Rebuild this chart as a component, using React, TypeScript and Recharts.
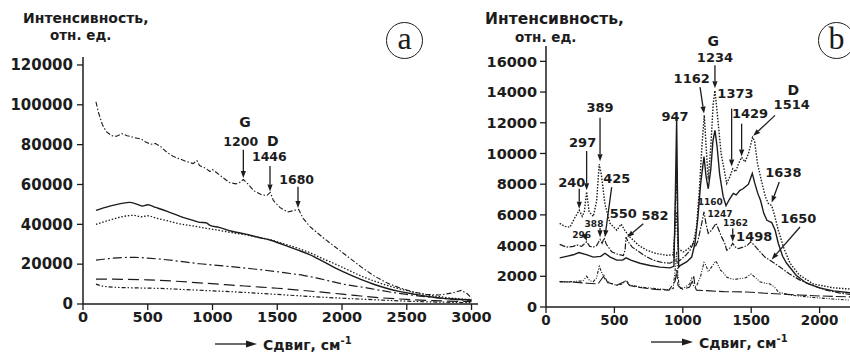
import React from 'react';
import { LineChart, Line, XAxis, YAxis, ReferenceLine, ReferenceDot } from 'recharts';

// ---- panel (a): spectra, [shift, intensity] ----
const aDashDot = [[100,101500],[120,96000],[150,90000],[180,86500],[220,84500],[260,84200],[300,85500],[340,84500],[400,83500],[450,82800],[480,81500],[520,80200],[560,80600],[600,79000],[650,76000],[700,74000],[760,72500],[800,71500],[850,70500],[880,72000],[900,69500],[950,68000],[980,66500],[1000,67500],[1030,66000],[1080,63500],[1130,61000],[1180,60300],[1210,61000],[1238,62500],[1270,60500],[1320,56800],[1380,54800],[1420,54500],[1446,56000],[1470,52000],[1520,48500],[1580,46200],[1620,46800],[1665,47500],[1700,43000],[1750,39000],[1850,33500],[1950,28500],[2050,23500],[2150,18500],[2250,14000],[2350,10500],[2450,8000],[2550,6000],[2650,4800],[2750,4500],[2850,5500],[2920,6800],[2970,5000],[3000,3000]];
const aSolid = [[100,47000],[200,49000],[300,50500],[360,51000],[420,50000],[460,49200],[500,49800],[560,48500],[650,46500],[750,44000],[850,42000],[900,41000],[950,40800],[980,39500],[1050,38500],[1150,36500],[1250,35200],[1350,33500],[1450,32000],[1550,29700],[1650,27300],[1750,24800],[1850,21500],[1950,18000],[2050,15000],[2150,12200],[2250,9800],[2350,7800],[2450,6200],[2550,5000],[2650,3900],[2750,3100],[2850,2500],[3000,2000]];
const aDotted = [[100,40000],[200,42000],[300,43800],[390,44500],[450,43800],[500,44300],[560,43200],[650,41800],[750,40200],[850,39200],[950,38000],[1050,37000],[1150,35800],[1250,34800],[1350,33500],[1450,32200],[1550,30200],[1650,28200],[1750,25800],[1850,22800],[1950,20000],[2050,17000],[2150,14000],[2250,11500],[2350,9300],[2450,7500],[2550,6000],[2650,4700],[2750,3700],[2850,2900],[3000,2200]];
const aLongDashDot = [[100,22000],[200,22800],[300,23300],[400,23400],[500,23000],[600,22500],[700,21800],[800,21000],[900,20200],[1000,19600],[1100,19000],[1200,18400],[1300,17700],[1400,17000],[1500,16200],[1600,15300],[1700,14400],[1800,13100],[1900,11600],[2000,10100],[2100,9000],[2200,8000],[2300,6800],[2400,5700],[2500,4800],[2600,4000],[2700,3300],[2800,2700],[3000,1800]];
const aDash = [[100,12500],[300,12400],[500,12100],[700,11500],[900,10600],[1100,9700],[1300,8800],[1500,7900],[1700,6800],[1900,5600],[2100,4300],[2300,3100],[2500,2300],[2700,1700],[2900,1300],[3000,1200]];
const aDashDotDot = [[100,10000],[150,9000],[250,8400],[400,8100],[600,7800],[800,7200],[1000,6600],[1200,6000],[1400,5200],[1600,4400],[1800,3600],[2000,2900],[2200,2300],[2400,1700],[2600,1200],[2800,900],[3000,700]];

// ---- panel (b) ----
const bDotted = [[100,5450],[140,5250],[175,5200],[210,5800],[243,6300],[265,5900],[280,6200],[297,7500],[315,6200],[346,5900],[370,6900],[389,9300],[405,8600],[431,6700],[468,5450],[517,5000],[550,5400],[575,5000],[614,4550],[680,4000],[736,3700],[800,3500],[882,3370],[930,3400],[947,5500],[955,6200],[965,3800],[1004,3580],[1040,3800],[1077,4150],[1100,5200],[1120,7500],[1140,10500],[1157,12500],[1170,10500],[1186,8300],[1205,10500],[1222,13200],[1235,14100],[1250,12800],[1280,10000],[1321,8050],[1345,8500],[1365,9000],[1385,8800],[1406,9300],[1430,9750],[1455,9450],[1480,10000],[1510,11050],[1525,10800],[1545,9400],[1575,8200],[1605,7150],[1625,6750],[1650,6600],[1670,6000],[1698,5000],[1740,3800],[1784,2850],[1850,2100],[1954,1500],[2100,1250],[2250,1150]];
const bSolid = [[100,3200],[150,3300],[200,3400],[240,3550],[300,3400],[346,3250],[400,3300],[431,3500],[470,3250],[517,3050],[560,3050],[585,3200],[620,3050],[687,2850],[760,2700],[833,2600],[906,2550],[935,2650],[945,7000],[955,12300],[963,6000],[970,2600],[980,2700],[1030,2950],[1065,3250],[1090,4200],[1110,5800],[1130,8000],[1155,9800],[1170,8500],[1186,7700],[1205,9000],[1220,10800],[1235,11500],[1250,10500],[1270,8600],[1295,7200],[1316,6600],[1340,7000],[1369,7400],[1390,7300],[1418,7600],[1440,7700],[1460,7850],[1480,8000],[1508,8700],[1525,8100],[1548,7400],[1568,6950],[1592,6100],[1615,5650],[1650,5500],[1675,5000],[1698,4150],[1730,3300],[1759,2850],[1830,2050],[1905,1550],[2000,1250],[2100,1050],[2250,900]];
const bDashDot = [[100,4080],[151,3900],[200,3950],[224,4050],[260,3950],[297,4250],[320,3950],[346,3900],[370,4000],[395,4400],[410,4150],[425,4500],[440,4100],[480,3600],[520,3450],[565,3350],[578,3700],[585,4550],[600,4250],[630,3900],[663,3700],[720,3350],[784,3050],[850,2900],[906,2850],[935,3000],[945,6500],[955,9000],[962,5500],[970,3000],[980,3050],[1020,3350],[1053,3700],[1077,4150],[1090,3900],[1110,4300],[1135,5300],[1155,6200],[1170,5400],[1186,4800],[1210,5000],[1243,5450],[1260,5100],[1284,4550],[1305,4200],[1321,3700],[1345,3850],[1365,4150],[1385,3900],[1406,3800],[1440,3900],[1470,4000],[1496,4250],[1520,4050],[1564,3600],[1600,3250],[1637,3050],[1670,2850],[1711,2600],[1780,2150],[1857,1750],[1950,1400],[2050,1100],[2150,900],[2250,800]];
const bDashDotDot = [[100,1650],[150,1620],[224,1680],[270,1700],[297,2000],[320,1700],[346,1650],[370,1900],[389,2650],[405,2300],[431,1800],[470,1550],[517,1420],[560,1500],[585,1750],[610,1450],[687,1300],[800,1200],[882,1130],[930,1200],[945,2500],[955,3600],[963,2200],[975,1200],[1010,1250],[1050,1500],[1065,1850],[1080,1350],[1100,1350],[1130,2000],[1155,2900],[1170,2700],[1186,2300],[1210,2600],[1240,3000],[1255,2800],[1275,2400],[1296,2250],[1320,1950],[1345,1850],[1380,1800],[1418,1850],[1460,1900],[1500,2150],[1520,2000],[1564,1650],[1600,1550],[1637,1500],[1670,1300],[1698,980],[1780,780],[1954,620],[2100,520],[2250,430]];
const bDash = [[100,1650],[200,1620],[300,1550],[380,1500],[425,2050],[450,1600],[517,1420],[585,1700],[610,1400],[700,1250],[800,1150],[900,1100],[945,1700],[955,2400],[965,1400],[1000,1150],[1050,1300],[1070,1700],[1080,2000],[1090,1300],[1100,1100],[1200,1050],[1300,1000],[1467,980],[1600,900],[1711,850],[1850,780],[2000,720],[2250,650]];

const aTicksX = [0, 500, 1000, 1500, 2000, 2500, 3000];
const aTicksY = [0, 20000, 40000, 60000, 80000, 100000, 120000];
const bTicksX = [0, 500, 1000, 1500, 2000];
const bTicksY = [0, 2000, 4000, 6000, 8000, 10000, 12000, 14000, 16000];

// peak labels [text, x, y, fontSize]
const aLabels: [string, number, number, number][] = [
  ['G', 1251, 91600, 14], ['1200', 1218, 81600, 12.5], ['D', 1465, 81600, 14],
  ['1446', 1439, 74000, 12.5], ['1680', 1650, 62300, 12.5],
];
// arrows [x1, y1, x2 (tip), y2 (tip)]
const aArrows = [
  [1238, 77400, 1238, 63200], [1444, 69300, 1444, 56500], [1660, 58800, 1660, 48200],
];
const bLabels: [string, number, number, number][] = [
  ['G', 1223, 17300, 14], ['1234', 1235, 16280, 13], ['1162', 1065, 14910, 13],
  ['1373', 1385, 13930, 13], ['1429', 1491, 12590, 13], ['D', 1808, 14150, 14],
  ['1514', 1796, 13200, 13], ['1638', 1735, 8790, 13], ['1650', 1844, 5760, 13],
  ['1498', 1522, 4600, 13], ['1362', 1385, 5480, 9], ['1247', 1272, 6080, 9],
  ['1160', 1200, 6850, 9], ['947', 943, 12420, 13], ['389', 395, 13020, 13],
  ['297', 268, 10740, 13], ['240', 188, 8140, 13], ['425', 517, 8360, 13],
  ['550', 565, 6120, 13], ['582', 797, 5970, 13], ['388', 351, 5380, 9], ['296', 261, 4670, 9],
];
const bArrows = [
  [1235, 15750, 1235, 14250], [1126, 14320, 1155, 12600], [1357, 12920, 1357, 9150],
  [1430, 11940, 1430, 9800], [1674, 12480, 1515, 11150], [1705, 8140, 1650, 6800],
  [1857, 5210, 1650, 3100], [1365, 5120, 1365, 4250], [395, 12330, 395, 9500],
  [297, 10160, 297, 7600], [243, 7710, 243, 6400], [480, 7810, 431, 4550],
  [711, 5430, 594, 4550], [395, 5150, 395, 4550], [290, 4500, 300, 4300],
];

const toPts = (arr: number[][]) => arr.map(([x, y]) => ({ x, y }));
const FONT = 'DejaVu Sans';
const INK = '#1c1c1c';

const ArrowShape = (p: any) => {
  const { x1, y1, x2, y2 } = p;
  const dx = x2 - x1, dy = y2 - y1;
  const len = Math.sqrt(dx * dx + dy * dy) || 1;
  const ux = dx / len, uy = dy / len;
  const hl = 7, hw = 2.6;
  const bx = x2 - ux * hl, by = y2 - uy * hl;
  return (
    <g>
      <line x1={x1} y1={y1} x2={bx} y2={by} stroke={INK} strokeWidth={1.3} />
      <polygon
        points={`${x2},${y2} ${bx - uy * hw},${by + ux * hw} ${bx + uy * hw},${by - ux * hw}`}
        fill={INK}
      />
    </g>
  );
};

const labelShape = (text: string, size: number) => (p: any) => (
  <text x={p.cx} y={p.cy} textAnchor="middle" dominantBaseline="central"
    fontFamily={FONT} fontWeight={700} fontSize={size} fill={INK}>{text}</text>
);

const lineProps = { dot: false, activeDot: false, isAnimationActive: false, dataKey: 'y', stroke: INK, type: 'linear' as const };

const AxisTitle = ({ left, top, size, indent }: { left: number; top: number; size: number; indent: number }) => (
  <div style={{ position: 'absolute', left, top, fontFamily: FONT, fontWeight: 700, color: INK, lineHeight: 1.2 }}>
    <div style={{ fontSize: size }}>Интенсивность,</div>
    <div style={{ fontSize: 13.5, paddingLeft: indent }}>отн. ед.</div>
  </div>
);

const ShiftLabel = ({ left, top }: { left: number; top: number }) => (
  <div style={{ position: 'absolute', left, top, display: 'flex', alignItems: 'center', fontFamily: FONT, fontWeight: 700, fontSize: 14, color: INK, lineHeight: 1 }}>
    <svg width={42} height={10} style={{ marginRight: 6 }}>
      <line x1={0} y1={5} x2={32} y2={5} stroke={INK} strokeWidth={1.3} />
      <polygon points="42,5 31,1.5 31,8.5" fill={INK} />
    </svg>
    <span>Сдвиг, см<sup style={{ fontSize: 10, lineHeight: 1 }}>-1</sup></span>
  </div>
);

const Badge = ({ cx, cy, letter }: { cx: number; cy: number; letter: string }) => (
  <div style={{
    position: 'absolute', left: cx - 18, top: cy - 18, width: 35, height: 35, borderRadius: '50%',
    border: `1.3px solid ${INK}`, display: 'flex', alignItems: 'center', justifyContent: 'center',
    fontFamily: 'Liberation Serif', fontSize: 32, color: INK, lineHeight: 1,
  }}>
    <span style={{ marginTop: -5 }}>{letter}</span>
  </div>
);

const tickStyle = (size: number) => ({ fill: INK, fontSize: size, fontWeight: 700, fontFamily: FONT });

export default function App() {
  return (
    <div style={{ position: 'absolute', left: 0, top: 0, width: 850, height: 352, overflow: 'hidden', background: '#fff' }}>
      <div style={{ position: 'absolute', left: 0, top: 0 }}>
        <LineChart width={500} height={352} margin={{ top: 57, right: 22, bottom: 18, left: 8 }}>
          <XAxis dataKey="x" type="number" domain={[0, 3050]} ticks={aTicksX} allowDataOverflow
            tick={tickStyle(14.5)} axisLine={{ stroke: INK, strokeWidth: 1.5 }} tickLine={{ stroke: INK, strokeWidth: 1.3 }} height={30} />
          <YAxis type="number" domain={[0, 124000]} ticks={aTicksY} allowDataOverflow width={75} tickMargin={4}
            tick={tickStyle(15)} axisLine={{ stroke: INK, strokeWidth: 1.5 }} tickLine={{ stroke: INK, strokeWidth: 1.3 }} />
          <Line {...lineProps} data={toPts(aDashDot)} strokeWidth={1.1} strokeDasharray="5 2 1.5 2" />
          <Line {...lineProps} data={toPts(aSolid)} strokeWidth={1.4} type="monotone" />
          <Line {...lineProps} data={toPts(aDotted)} strokeWidth={1.3} strokeDasharray="1.5 1.8" type="monotone" />
          <Line {...lineProps} data={toPts(aLongDashDot)} strokeWidth={1.2} strokeDasharray="9 3 2 3" type="monotone" />
          <Line {...lineProps} data={toPts(aDash)} strokeWidth={1.2} strokeDasharray="11 5" type="monotone" />
          <Line {...lineProps} data={toPts(aDashDotDot)} strokeWidth={1.2} strokeDasharray="4 2 1.5 2 1.5 2" type="monotone" />
          {aArrows.map((a, i) => (
            <ReferenceLine key={`aa${i}`} segment={[{ x: a[0], y: a[1] }, { x: a[2], y: a[3] }]} ifOverflow="visible" shape={ArrowShape} />
          ))}
          {aLabels.map(([t, x, y, s], i) => (
            <ReferenceDot key={`al${i}`} x={x} y={y} r={0} ifOverflow="visible" shape={labelShape(t, s)} />
          ))}
        </LineChart>
      </div>
      <div style={{ position: 'absolute', left: 470, top: 0 }}>
        <LineChart width={430} height={352} margin={{ top: 46, right: 12, bottom: 15, left: 6 }}>
          <XAxis dataKey="x" type="number" domain={[0, 2500]} ticks={bTicksX} allowDataOverflow
            tick={tickStyle(13.5)} axisLine={{ stroke: INK, strokeWidth: 1.5 }} tickLine={{ stroke: INK, strokeWidth: 1.3 }} height={30} />
          <YAxis type="number" domain={[0, 17000]} ticks={bTicksY} allowDataOverflow width={70} tickMargin={3}
            tick={tickStyle(14.5)} axisLine={{ stroke: INK, strokeWidth: 1.5 }} tickLine={{ stroke: INK, strokeWidth: 1.3 }} />
          <Line {...lineProps} data={toPts(bDash)} strokeWidth={1.1} strokeDasharray="10 3" />
          <Line {...lineProps} data={toPts(bDashDotDot)} strokeWidth={1.1} strokeDasharray="3 1.5 1 1.5 1 1.5" />
          <Line {...lineProps} data={toPts(bDashDot)} strokeWidth={1.2} strokeDasharray="6 1.5 1.5 1.5" />
          <Line {...lineProps} data={toPts(bSolid)} strokeWidth={1.4} />
          <Line {...lineProps} data={toPts(bDotted)} strokeWidth={1.4} strokeDasharray="1.5 1.5" />
          {bArrows.map((a, i) => (
            <ReferenceLine key={`ba${i}`} segment={[{ x: a[0], y: a[1] }, { x: a[2], y: a[3] }]} ifOverflow="visible" shape={ArrowShape} />
          ))}
          {bLabels.map(([t, x, y, s], i) => (
            <ReferenceDot key={`bl${i}`} x={x} y={y} r={0} ifOverflow="visible" shape={labelShape(t, s)} />
          ))}
        </LineChart>
      </div>
      <AxisTitle left={23} top={10} size={14} indent={27} />
      <AxisTitle left={485} top={10} size={15.5} indent={30} />
      <Badge cx={404} cy={40} letter="a" />
      <Badge cx={836} cy={40} letter="b" />
      <ShiftLabel left={215} top={336} />
      <ShiftLabel left={651} top={334} />
    </div>
  );
}
